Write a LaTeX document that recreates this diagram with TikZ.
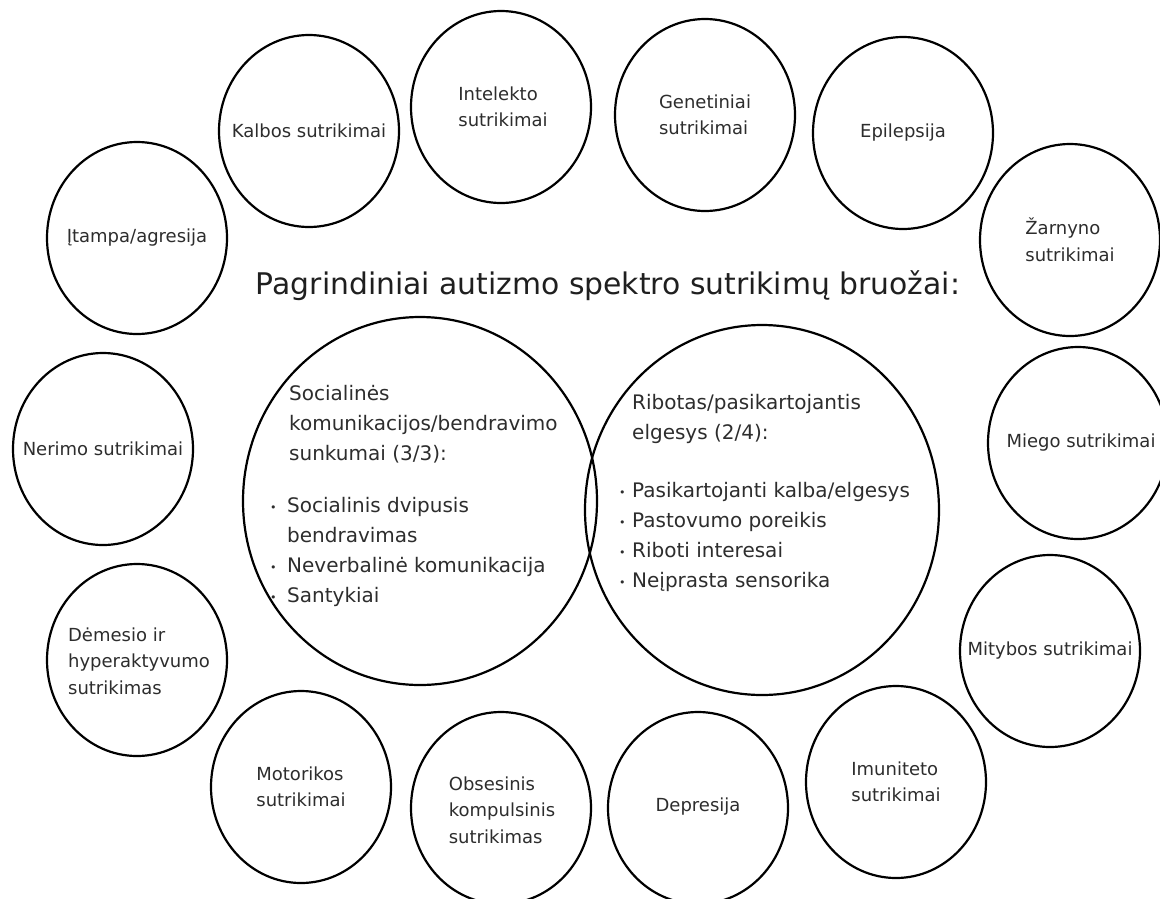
\documentclass[tikz,border=0pt]{standalone}
\usepackage{fontspec}
\setmainfont{DejaVu Sans}
\definecolor{txt}{RGB}{45,45,45}
\newcommand\bulbox[1]{\makebox[#1][l]{\raisebox{1pt}{\fontsize{11}{11}\selectfont •}}}
\begin{document}
\begin{tikzpicture}[x=1pt,y=-1pt,
  bub/.style={font=\fontsize{18}{26.5}\selectfont, align=left, text=txt, inner sep=0pt},
  big/.style={font=\fontsize{20}{30}\selectfont, align=left, text=txt, inner sep=0pt, anchor=north west},
  ring/.style={draw=black, line width=2.2pt}]
\fill[white] (0,0) rectangle (1160,898);
\useasboundingbox (0,0) rectangle (1160,898);

% title
\node[font=\fontsize{29.8}{36}\selectfont, text=black!88, anchor=base, inner sep=0pt] (title) at (608,294) {Pagrindiniai autizmo spektro sutrikimų bruožai:};

% small circles
\node[bub] (itampa) at (137,238) {Įtampa/agresija};
\node[bub] (kalbos) at (309,131) {Kalbos sutrikimai};
\node[bub] (intelekto) at (503,107) {Intelekto\\sutrikimai};
\node[bub] (genetiniai) at (705,115) {Genetiniai\\sutrikimai};
\node[bub] (epilepsija) at (903,133) {Epilepsija};
\node[bub] (zarnyno) at (1070,240) {Žarnyno\\sutrikimai};
\node[bub] (miego) at (1081,443) {Miego sutrikimai};
\node[bub] (mitybos) at (1050,651) {Mitybos sutrikimai};
\node[bub] (imuniteto) at (896,782) {Imuniteto\\sutrikimai};
\node[bub] (depresija) at (698,807) {Depresija};
\node[bub] (obsesinis) at (502,810) {Obsesinis\\kompulsinis\\sutrikimas};
\node[bub] (motorikos) at (301,787) {Motorikos\\sutrikimai};
\node[bub] (demesio) at (139,661) {Dėmesio ir\\hyperaktyvumo\\sutrikimas};
\node[bub] (nerimo) at (103,449) {Nerimo sutrikimai};

\foreach \cx/\cy in {137/238, 309/131, 501/107, 705/115,
  903/133, 1070/240, 1078/443, 1050/651, 896/782,
  698/808, 501/808, 301/787, 137/660, 103/449}
  \draw[ring] (\cx,\cy) ellipse [x radius=90pt, y radius=96pt];

% big circles
\coordinate (bigL) at (420,501);
\coordinate (bigR) at (762,510);
\draw[ring] (bigL) ellipse [x radius=177pt, y radius=184pt];
\draw[ring] (bigR) ellipse [x radius=177pt, y radius=185pt];

\node[big] (lhead) at (289,385) {Socialinės\\komunikacijos/bendravimo\\sunkumai (3/3):};
\node[big] (lbul) at (270,497) {\bulbox{17pt}Socialinis dvipusis\\\hspace*{17pt}bendravimas\\\bulbox{17pt}Neverbalinė komunikacija\\\bulbox{17pt}Santykiai};

\node[big] (rhead) at (632,394) {Ribotas/pasikartojantis\\elgesys (2/4):};
\node[big] (rbul) at (619,482) {\bulbox{13pt}Pasikartojanti kalba/elgesys\\\bulbox{13pt}Pastovumo poreikis\\\bulbox{13pt}Riboti interesai\\\bulbox{13pt}Neįprasta sensorika};
\end{tikzpicture}
\end{document}
